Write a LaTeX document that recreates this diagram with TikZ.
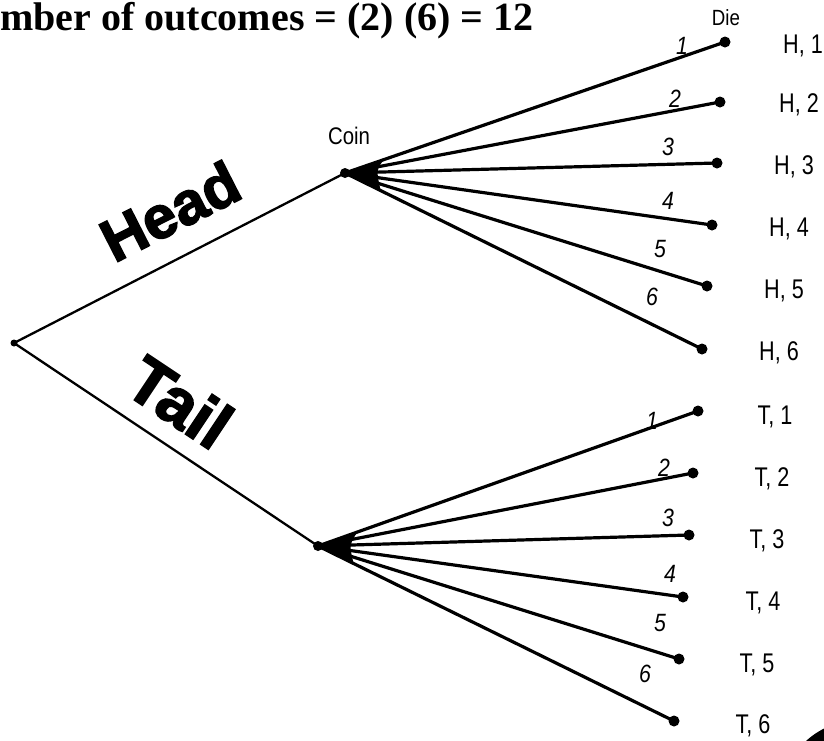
\documentclass[tikz,border=0pt]{standalone}
\usepackage{fontspec}
\setmainfont{Liberation Serif}
\newfontfamily\lab{Liberation Sans}
\newfontfamily\heavy{Liberation Sans}[BoldFeatures={FakeBold=2.5}]
\begin{document}
\begin{tikzpicture}[x=1pt,y=-1pt,
  dot/.style={circle,fill=black,inner sep=0pt,minimum size=11pt},
  coindot/.style={circle,fill=black,inner sep=0pt,minimum size=10pt},
  smalldot/.style={circle,fill=black,inner sep=0pt,minimum size=7pt},
  trunk/.style={line width=2.3pt},
  branch/.style={line width=3.2pt},
  num/.style={font=\lab\fontsize{25}{25}\selectfont\itshape,inner sep=0pt,xscale=0.85},
  outc/.style={font=\lab\fontsize{27}{27}\selectfont,inner sep=0pt,xscale=0.8},
  big/.style={font=\heavy\bfseries\fontsize{60}{60}\selectfont,inner sep=0pt}]
\useasboundingbox (0,0) rectangle (824,740);
\clip (0,0) rectangle (824,740);
\fill[white] (0,0) rectangle (824,740);
% title
\node[anchor=base west,inner sep=0pt,font=\bfseries\fontsize{40}{40}\selectfont] (title) at (0,30.5) {mber of outcomes = (2) (6) = 12};
% nodes
\node[smalldot] (root) at (14,343) {};
\node[coindot] (hc) at (345,173) {};
\node[coindot] (tc) at (318,546) {};
\node[dot] (h1) at (725,42) {};
\node[dot] (h2) at (720,102) {};
\node[dot] (h3) at (717,163) {};
\node[dot] (h4) at (712,225) {};
\node[dot] (h5) at (707,286) {};
\node[dot] (h6) at (702,349) {};
\node[dot] (t1) at (698,411) {};
\node[dot] (t2) at (693,473) {};
\node[dot] (t3) at (689,535) {};
\node[dot] (t4) at (683,597) {};
\node[dot] (t5) at (679,659) {};
\node[dot] (t6) at (674,721) {};
% trunks
\draw[trunk] (root.center) -- (hc.center);
\draw[trunk] (root.center) -- (tc.center);
% fans
\fill (hc.center) -- (385,158) .. controls (376,170) .. (381,192) -- cycle;
\fill (tc.center) -- (358,531) .. controls (349,545) .. (354,565) -- cycle;
\foreach \i in {1,...,6}{
  \draw[branch] (hc.center) -- (h\i.center);
  \draw[branch] (tc.center) -- (t\i.center);
}
% labels
\node[font=\lab\fontsize{24}{24}\selectfont,inner sep=0pt,xscale=0.85] (coin) at (349,136) {Coin};
\node[font=\lab\fontsize{22}{22}\selectfont,inner sep=0pt,xscale=0.85] (die) at (726,18) {Die};
\node[big,rotate=27] (head) at (170,211) {Head};
\node[big,rotate=-33.7,font=\heavy\bfseries\fontsize{66}{66}\selectfont] (tail) at (180,402) {Tail};
% branch numbers
\node[num] (hn1) at (682,46) {1};
\node[num] (hn2) at (675,99) {2};
\node[num] (hn3) at (668,147) {3};
\node[num] (hn4) at (668,201) {4};
\node[num] (hn5) at (660,249) {5};
\node[num] (hn6) at (652,297) {6};
\node[num] (tn1) at (652,421) {1};
\node[num] (tn2) at (664,468) {2};
\node[num] (tn3) at (668,518) {3};
\node[num] (tn4) at (670,574) {4};
\node[num] (tn5) at (660,623) {5};
\node[num] (tn6) at (645,674) {6};
% outcomes
\node[outc] (oh1) at (803,46) {H, 1};
\node[outc] (oh2) at (799,105) {H, 2};
\node[outc] (oh3) at (794,167) {H, 3};
\node[outc] (oh4) at (789,229) {H, 4};
\node[outc] (oh5) at (784,291) {H, 5};
\node[outc] (oh6) at (779,353) {H, 6};
\node[outc] (ot1) at (775,417) {T, 1};
\node[outc] (ot2) at (772,479) {T, 2};
\node[outc] (ot3) at (767,541) {T, 3};
\node[outc] (ot4) at (763,603) {T, 4};
\node[outc] (ot5) at (757,665) {T, 5};
\node[outc] (ot6) at (753,726) {T, 6};
% corner blob
\fill (860,800) circle (80);
\end{tikzpicture}
\end{document}
